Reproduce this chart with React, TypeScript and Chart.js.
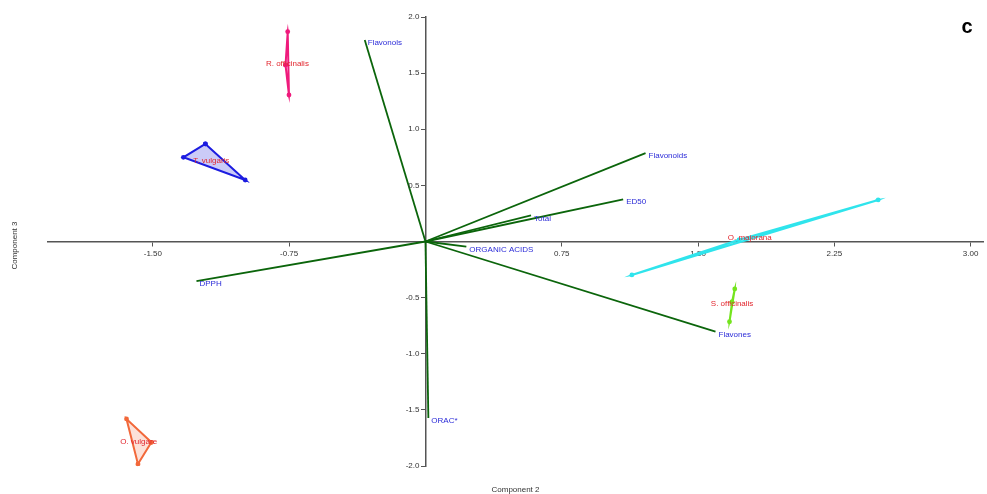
import React, { useEffect, useRef } from "react";
import { Chart, registerables } from "chart.js";

Chart.register(...registerables);

// Axis ticks
const xTickValues = [-1.5, -0.75, 0.75, 1.5, 2.25, 3.0];
const yTickValues = [-2.0, -1.5, -1.0, -0.5, 0.5, 1.0, 1.5, 2.0];
const xRange = [-2.077, 3.068];
const yRange = [-2.0, 2.0];

// Variable loadings (Component 2, Component 3)
const variableNames = ["Flavonols", "Flavonoids", "ED50", "Total", "ORGANIC ACIDS", "Flavones", "ORAC*", "DPPH"];
const loadingX = [-0.334, 1.211, 1.088, 0.581, 0.225, 1.596, 0.016, -1.26];
const loadingY = [1.795, 0.788, 0.376, 0.233, -0.046, -0.803, -1.572, -0.352];

// Sample scores, three replicates per species
const speciesNames = ["R. officinalis", "T. vulgaris", "O. vulgare", "O. majorana", "S. officinalis"];
const rOfficinalisX = [-0.770, -0.758, -0.751];
const rOfficinalisY = [1.572, 1.869, 1.305];
const tVulgarisX = [-1.211, -0.992, -1.332];
const tVulgarisY = [0.869, 0.548, 0.750];
const oVulgareX = [-1.508, -1.582, -1.645];
const oVulgareY = [-1.789, -1.982, -1.581];
const oMajoranaX = [1.726, 2.491, 1.136];
const oMajoranaY = [0.015, 0.370, -0.298];
const sOfficinalisX = [1.687, 1.702, 1.673];
const sOfficinalisY = [-0.539, -0.423, -0.715];

const speciesX = [rOfficinalisX, tVulgarisX, oVulgareX, oMajoranaX, sOfficinalisX];
const speciesY = [rOfficinalisY, tVulgarisY, oVulgareY, oMajoranaY, sOfficinalisY];
const speciesColors = ["#ef1a7c", "#1c1ce0", "#f2683a", "#2fe4ec", "#74e41e"];
const speciesFills = [
  "rgba(239,26,124,0.15)",
  "rgba(70,70,225,0.28)",
  "rgba(242,104,58,0.2)",
  "rgba(47,228,236,0.2)",
  "rgba(116,228,30,0.2)",
];

const loadingColor = "#0b650b";
const variableLabelColor = "#2b2bd8";
const speciesLabelColor = "#e2262e";
const axisColor = "#555555";
const tickLabelColor = "#333333";
const FONT = '"Liberation Sans", Arial, sans-serif';
const HULL_WIDTH = 2;
const MITER_CLIP = 8;

type Pt = { x: number; y: number };

// Canvas bevels very sharp joins; draw the hull corners as clipped miters instead.
function drawClippedMiters(ctx: CanvasRenderingContext2D, pts: Pt[], color: string, width: number, clip: number) {
  const n = pts.length;
  ctx.fillStyle = color;
  for (let k = 0; k < n; k++) {
    const v = pts[k];
    const a = pts[(k - 1 + n) % n];
    const b = pts[(k + 1) % n];
    let u1x = a.x - v.x, u1y = a.y - v.y;
    const l1 = Math.hypot(u1x, u1y);
    let u2x = b.x - v.x, u2y = b.y - v.y;
    const l2 = Math.hypot(u2x, u2y);
    if (l1 < 1e-6 || l2 < 1e-6) continue;
    u1x /= l1; u1y /= l1; u2x /= l2; u2y /= l2;
    let dx = -(u1x + u2x), dy = -(u1y + u2y);
    const ld = Math.hypot(dx, dy);
    if (ld < 1e-6) continue;
    dx /= ld; dy /= ld;
    const half = Math.acos(Math.max(-1, Math.min(1, u1x * u2x + u1y * u2y))) / 2;
    const tip = Math.min((width / 2) / Math.sin(half), clip);
    let n1x = -u1y, n1y = u1x;
    if (n1x * u2x + n1y * u2y > 0) { n1x = -n1x; n1y = -n1y; }
    let n2x = -u2y, n2y = u2x;
    if (n2x * u1x + n2y * u1y > 0) { n2x = -n2x; n2y = -n2y; }
    ctx.beginPath();
    ctx.moveTo(v.x, v.y);
    ctx.lineTo(v.x + (n1x * width) / 2, v.y + (n1y * width) / 2);
    ctx.lineTo(v.x + dx * tip, v.y + dy * tip);
    ctx.lineTo(v.x + (n2x * width) / 2, v.y + (n2y * width) / 2);
    ctx.closePath();
    ctx.fill();
  }
}

const biplotText = {
  id: "biplotText",
  afterDatasetsDraw(chart: any) {
    const { ctx, chartArea } = chart;
    const xs = chart.scales.x;
    const ys = chart.scales.y;
    ctx.save();

    // sharp hull corners
    chart.data.datasets.forEach((ds: any, i: number) => {
      if (!ds.isHull) return;
      const els = chart.getDatasetMeta(i).data.slice(0, -1);
      drawClippedMiters(ctx, els.map((e: any) => ({ x: e.x, y: e.y })), ds.borderColor, HULL_WIDTH, MITER_CLIP);
    });

    // y tick labels, left of the vertical axis
    const x0 = xs.getPixelForValue(0);
    ctx.font = `8px ${FONT}`;
    ctx.fillStyle = tickLabelColor;
    ctx.textAlign = "right";
    ctx.textBaseline = "middle";
    yTickValues.forEach((v) => {
      ctx.fillText(v.toFixed(1), x0 - 6, ys.getPixelForValue(v));
    });

    // variable names at the tips of the loading vectors
    ctx.fillStyle = variableLabelColor;
    ctx.textAlign = "left";
    variableNames.forEach((name, i) => {
      ctx.fillText(name, xs.getPixelForValue(loadingX[i]) + 3, ys.getPixelForValue(loadingY[i]) + 3);
    });

    // species names at the centroid of each group
    ctx.fillStyle = speciesLabelColor;
    ctx.textAlign = "center";
    speciesNames.forEach((name, i) => {
      const cx = speciesX[i].reduce((a, b) => a + b, 0) / speciesX[i].length;
      const cy = speciesY[i].reduce((a, b) => a + b, 0) / speciesY[i].length;
      ctx.fillText(name, xs.getPixelForValue(cx), ys.getPixelForValue(cy));
    });

    // axis titles
    ctx.fillStyle = tickLabelColor;
    ctx.fillText("Component 2", (chartArea.left + chartArea.right) / 2, chartArea.bottom + 24);
    ctx.save();
    ctx.translate(15, (chartArea.top + chartArea.bottom) / 2 + 4);
    ctx.rotate(-Math.PI / 2);
    ctx.fillText("Component 3", 0, 0);
    ctx.restore();

    // panel letter
    ctx.font = `bold 20px ${FONT}`;
    ctx.fillStyle = "#000000";
    ctx.textBaseline = "alphabetic";
    ctx.fillText("c", 967, 33);

    ctx.restore();
  },
};

export default function App() {
  const canvasRef = useRef<HTMLCanvasElement | null>(null);

  useEffect(() => {
    if (!canvasRef.current) return;

    const loadingSets = variableNames.map((name, i) => ({
      label: name,
      data: [
        { x: 0, y: 0 },
        { x: loadingX[i], y: loadingY[i] },
      ],
      showLine: true,
      borderColor: loadingColor,
      borderWidth: 1.8,
      pointRadius: 0,
      pointHoverRadius: 0,
      fill: false,
      order: 2,
    }));

    const hullSets = speciesNames.map((name, i) => {
      const pts = speciesX[i].map((x, k) => ({ x, y: speciesY[i][k] }));
      return {
        label: name,
        isHull: true,
        data: [...pts, pts[0]],
        showLine: true,
        borderColor: speciesColors[i],
        backgroundColor: speciesFills[i],
        borderWidth: HULL_WIDTH,
        borderJoinStyle: "miter" as const,
        borderCapStyle: "round" as const,
        pointRadius: 2.4,
        pointBackgroundColor: speciesColors[i],
        pointBorderColor: speciesColors[i],
        pointBorderWidth: 0,
        fill: "shape" as const,
        tension: 0,
        order: 1,
      };
    });

    const chart = new Chart(canvasRef.current, {
      type: "scatter",
      data: { datasets: [...loadingSets, ...hullSets] as any },
      options: {
        animation: false,
        responsive: false,
        events: [],
        layout: { padding: { left: 48, right: 0, top: 17, bottom: 28 } },
        plugins: { legend: { display: false }, tooltip: { enabled: false } },
        scales: {
          x: {
            type: "linear",
            position: { y: 0 } as any,
            min: xRange[0],
            max: xRange[1],
            afterFit: (scale: any) => {
              scale.height = 0;
            },
            afterBuildTicks: (scale: any) => {
              scale.ticks = xTickValues.map((v) => ({ value: v }));
            },
            grid: { drawOnChartArea: false, drawTicks: true, tickLength: 4, color: axisColor, lineWidth: 1 },
            border: { display: true, color: axisColor, width: 1.5 },
            ticks: {
              autoSkip: false,
              maxRotation: 0,
              padding: 3,
              color: tickLabelColor,
              font: { family: FONT, size: 8 },
              callback: (v: any) => Number(v).toFixed(2),
            },
          },
          y: {
            type: "linear",
            position: { x: 0 } as any,
            min: yRange[0],
            max: yRange[1],
            afterFit: (scale: any) => {
              scale.width = 0;
            },
            afterBuildTicks: (scale: any) => {
              scale.ticks = yTickValues.map((v) => ({ value: v }));
            },
            grid: { drawOnChartArea: false, drawTicks: true, tickLength: 4, color: axisColor, lineWidth: 1 },
            border: { display: true, color: axisColor, width: 1.5 },
            ticks: { display: false },
          },
        },
      },
      plugins: [biplotText],
    });

    return () => chart.destroy();
  }, []);

  return (
    <div style={{ position: "fixed", left: 0, top: 0, width: 987, height: 494, background: "#ffffff" }}>
      <canvas ref={canvasRef} width={987} height={494} style={{ display: "block" }} />
    </div>
  );
}
